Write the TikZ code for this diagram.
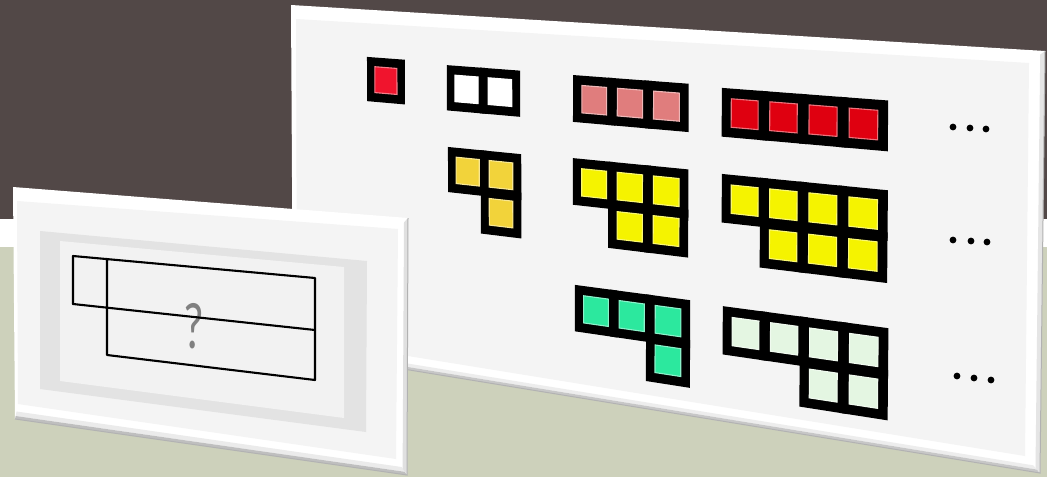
\documentclass[tikz,border=0pt]{standalone}
\usepackage{fontspec}
\newfontfamily\qfont{Carlito}
\usetikzlibrary{calc}
\definecolor{bgdark}{HTML}{524847}
\definecolor{bggreen}{HTML}{CDD1BB}
\definecolor{face}{HTML}{F4F4F4}
\definecolor{framegrey}{HTML}{E3E3E3}
\definecolor{innerlight}{HTML}{F2F2F2}
\definecolor{qgrey}{HTML}{808080}
\definecolor{cRed}{HTML}{F0142D}
\definecolor{cSalmon}{HTML}{E07D7D}
\definecolor{cDeep}{HTML}{DF0010}
\definecolor{cGold}{HTML}{F2D33A}
\definecolor{cYellow}{HTML}{F5F300}
\definecolor{cTeal}{HTML}{2CE89E}
\definecolor{cPale}{HTML}{E4F6E2}
\newcommand\hpt[3]{%
  \pgfmathsetmacro\hu{(#1)*0.0485}%
  \pgfmathsetmacro\hv{(#2)*0.1037}%
  \pgfmathsetmacro\hd{1-0.18245*\hu+0.00815*\hv}%
  \pgfmathsetmacro\hx{(563.34*\hu+4.388*\hv+291)/\hd}%
  \pgfmathsetmacro\hy{(36.695*\hu+348.861*\hv+5)/\hd}%
  \coordinate (#3) at (\hx,\hy);%
}
\newcommand\pquad[5]{%
  \hpt{#1}{#2}{q1}\hpt{(#1)+(#3)}{#2}{q2}\hpt{(#1)+(#3)}{(#2)+(#4)}{q3}\hpt{#1}{(#2)+(#4)}{q4}%
  \path[#5] (q1)--(q2)--(q3)--(q4)--cycle;%
}
\newcommand\pblock[4]{%
  \foreach \ci/\cj in {#4}{\pquad{#1+\ci}{#2+\cj}{1.2}{1.2}{fill=black}}%
  \foreach \ci/\cj in {#4}{\pquad{#1+\ci+0.25}{#2+\cj+0.25}{0.7}{0.7}{fill=#3,draw=#3!55!white,line width=1.1}}%
}
% band between inner edge (A-B) and outer edge (C-D), from t1 to t2
\newcommand\band[7]{%
  \fill[#7] ($(#1)!#5!(#3)$) -- ($(#2)!#5!(#4)$) -- ($(#2)!#6!(#4)$) -- ($(#1)!#6!(#3)$) -- cycle;%
}
\tikzset{
  qline/.style={line width=2.1, line cap=round, line join=round},
  ddot/.style={fill=black}
}
\begin{document}
\begin{tikzpicture}[x=1pt,y=-1pt]
\useasboundingbox (0,0) rectangle (1047,477);
% background
\fill[bgdark] (0,0) rectangle (1047,219);
\fill[white] (0,219) rectangle (1047,247);
\fill[bggreen] (0,247) rectangle (1047,477);

% ---------- right panel ----------
\coordinate (R1) at (291,5);
\coordinate (R2) at (1045,51);
\coordinate (R3) at (1040,473);
\coordinate (R4) at (293,351);
\coordinate (I1) at (296,19);
\coordinate (I2) at (1029,63);
\coordinate (I3) at (1025,456);
\coordinate (I4) at (297,338);
\fill[white] (R1)--(R2)--(R3)--(R4)--cycle;
\band{I4}{I3}{R4}{R3}{0.55}{0.8}{black!7}
\band{I4}{I3}{R4}{R3}{0.8}{1}{black!22}
\band{I2}{I3}{R2}{R3}{0.7}{1}{black!10}
\fill[face] (I1)--(I2)--(I3)--(I4)--cycle;
\draw[black!30, line width=1] (R4)--(R3)--(R2);

% blocks
\pblock{2.48}{1.28}{cRed}{0/0}
\pblock{4.98}{1.34}{white}{0/0,1/0}
\pblock{8.71}{1.35}{cSalmon}{0/0,1/0,2/0}
\pblock{12.79}{1.39}{cDeep}{0/0,1/0,2/0,3/0}
\pblock{5.01}{3.51}{cGold}{0/0,1/0,1/1}
\pblock{8.71}{3.48}{cYellow}{0/0,1/0,2/0,1/1,2/1}
\pblock{12.80}{3.51}{cYellow}{0/0,1/0,2/0,3/0,1/1,2/1,3/1}
\pblock{8.77}{6.74}{cTeal}{0/0,1/0,2/0,2/1}
\pblock{12.84}{6.78}{cPale}{0/0,1/0,2/0,3/0,2/1,3/1}

% dots
\fill[ddot] (953,127) circle (3.4) (970,128) circle (3.4) (986,129) circle (3.4);
\fill[ddot] (953,240) circle (3.4) (971,241) circle (3.4) (987,242) circle (3.4);
\fill[ddot] (957,376) circle (3.4) (974,378) circle (3.4) (991,380) circle (3.4);

% ---------- left panel ----------
\coordinate (L1) at (13,187);
\coordinate (L2) at (408,218);
\coordinate (L3) at (407,475);
\coordinate (L4) at (15,419);
\coordinate (M1) at (17,201);
\coordinate (M2) at (398,229);
\coordinate (M3) at (396,459);
\coordinate (M4) at (18,404);
\fill[white] (L1)--(L2)--(L3)--(L4)--cycle;
\band{M4}{M3}{L4}{L3}{0.5}{0.8}{black!8}
\band{M4}{M3}{L4}{L3}{0.8}{1}{black!25}
\band{M2}{M3}{L2}{L3}{0.6}{1}{black!12}
\fill[face] (M1)--(M2)--(M3)--(M4)--cycle;
\draw[black!30, line width=1] (L4)--(L3)--(L2);
% grey frame
\fill[framegrey] (40,231) -- (367,261) -- (366,432) -- (40,389) -- cycle;
\fill[innerlight] (60,241) -- (344,267) -- (344,418) -- (60,381) -- cycle;
% question mark
\node[text=qgrey, font=\qfont\fontsize{66}{66}\selectfont, xscale=0.68, inner sep=0] (q) at (194,326) {?};
% lines
\coordinate (a1) at (73,256);
\coordinate (a2) at (315,278);
\coordinate (a3) at (73,304);
\coordinate (a4) at (315,330);
\coordinate (b1) at (107,259);
\coordinate (b2) at (107,355);
\coordinate (b3) at (315,380);
\draw[qline] (a3)--(a1)--(a2)--(b3)--(b2)--(b1);
\draw[qline] (a3)--(a4);
\end{tikzpicture}
\end{document}
